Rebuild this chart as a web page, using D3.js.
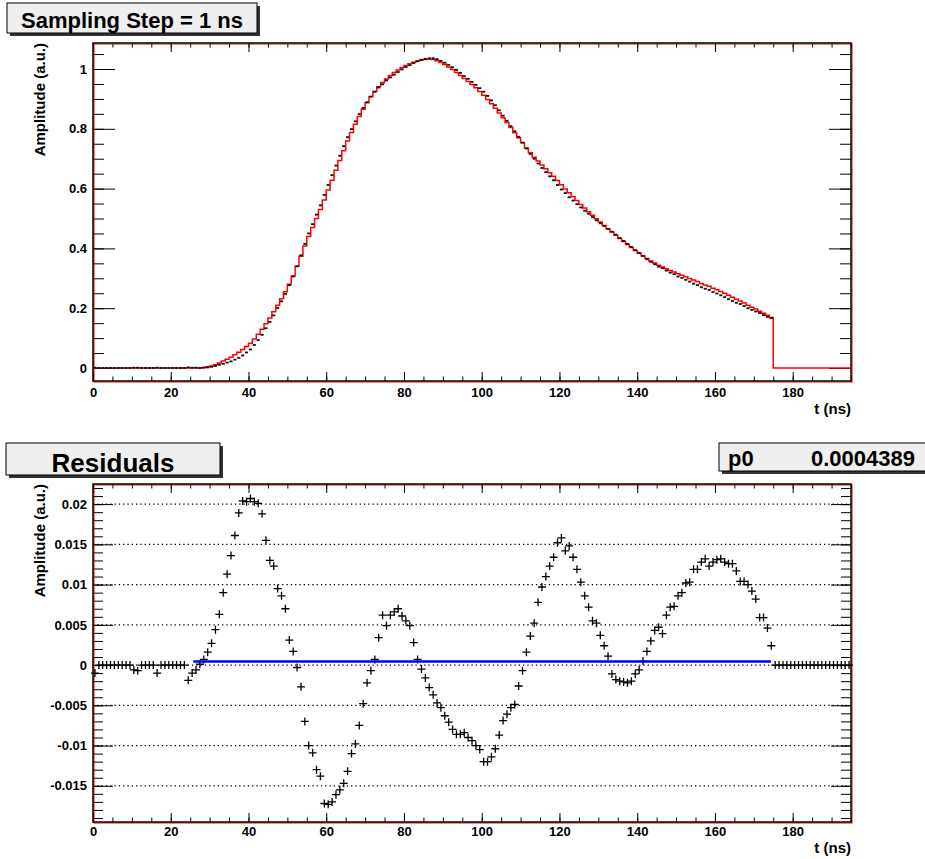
<!DOCTYPE html>
<html>
<head>
<meta charset="utf-8">
<script src="https://cdn.jsdelivr.net/npm/d3@7"></script>
<style>
  body { margin: 0; background: #fff; }
  svg { font-family: "Liberation Sans", Arial, Helvetica, sans-serif; }
</style>
</head>
<body>
<svg id="plot" width="925" height="859"></svg>
<script>
// 1 ns bins, bin n covers [n, n+1]
var binRange = [0, 195];

// red histogram (bins 0..194)
var redAmp = [
	0,0,0,0,0,0,0,0,0,0, 0,0,0,0,0,0,0,0,0,0, 0,0,0,0,0,0,0,0,
	0.002,0.004,0.007,0.011,0.017,0.023,
	0.029,0.036,0.044,0.053,0.062,0.072,0.083,0.097,0.113,0.130,
	0.148,0.167,0.188,0.210,0.232,0.255,0.280,0.308,0.340,0.374,
	0.408,0.440,0.470,0.500,0.530,0.562,0.595,0.628,0.661,0.694,
	0.727,0.759,0.788,0.815,0.841,0.865,0.887,0.907,0.925,0.941,
	0.955,0.967,0.978,0.988,0.997,1.005,1.012,1.018,1.023,1.027,
	1.030,1.032,1.033,1.032,1.028,1.022,1.015,1.007,0.998,0.988,
	0.978,0.968,0.958,0.948,0.937,0.925,0.912,0.898,0.884,0.869,
	0.853,0.837,0.821,0.804,0.787,0.770,0.753,0.736,0.720,0.705,
	0.692,0.679,0.666,0.653,0.641,0.627,0.613,0.599,0.586,0.573,
	0.560,0.547,0.535,0.523,0.511,0.499,0.488,0.477,0.466,0.455,
	0.444,0.433,0.423,0.413,0.403,0.393,0.384,0.375,0.366,0.358,
	0.351,0.344,0.338,0.332,0.326,0.321,0.315,0.310,0.305,0.299,
	0.294,0.289,0.283,0.278,0.273,0.267,0.262,0.256,0.250,0.243,
	0.237,0.230,0.224,0.217,0.210,0.203,0.197,0.190,0.183,0.176,
	0.169,
	0,0,0,0,0,0,0,0,0,0, 0,0,0,0,0,0,0,0,0,0
];

// black histogram (bins 0..174)
var blackAmp = [
	0.001,0,0,0,0,0,0,0,0,0, 0.001,0.001,0,0,0,0, 0.001,0,0,0,0,0,0,0,
	0.002,0.001,0.001,0,0.001,0.002,0.004,0.007,0.011,0.014,
	0.018,0.022,0.028,0.034,0.042,0.052,0.062,0.077,0.093,0.111,
	0.133,0.154,0.176,0.201,0.223,0.248,0.277,0.306,0.340,0.377,
	0.415,0.450,0.481,0.513,0.544,0.579,0.612,0.645,0.677,0.710,
	0.742,0.772,0.799,0.825,0.849,0.870,0.889,0.908,0.924,0.938,
	0.949,0.962,0.972,0.981,0.990,0.999,1.007,1.013,1.020,1.026,
	1.031,1.034,1.036,1.036,1.033,1.027,1.021,1.014,1.006,0.997,
	0.987,0.976,0.967,0.957,0.947,0.936,0.924,0.910,0.895,0.879,
	0.862,0.844,0.827,0.809,0.792,0.773,0.754,0.734,0.716,0.700,
	0.684,0.669,0.655,0.641,0.628,0.612,0.597,0.585,0.571,0.560,
	0.548,0.537,0.526,0.516,0.505,0.494,0.484,0.475,0.465,0.456,
	0.446,0.435,0.425,0.415,0.405,0.394,0.385,0.375,0.364,0.355,
	0.347,0.339,0.334,0.326,0.319,0.314,0.306,0.301,0.295,0.289,
	0.282,0.277,0.270,0.265,0.261,0.254,0.249,0.243,0.237,0.230,
	0.224,0.218,0.214,0.207,0.200,0.194,0.189,0.184,0.177,0.171,
	0.167
];

// residuals per bin (0..194)
var residuals = [
	-0.0010,0,0,0,0,0,0,0,0,0, -0.0006,-0.0007,0,0,0,0, -0.0010,0,0,0,0,0,0,0,
	-0.0019,-0.0010,-0.0006,0.0001,0.0007,0.0016,0.0027,0.0044,0.0063,0.0090,
	0.0113,0.0136,0.0161,0.0189,0.0204,0.0203,0.0207,0.0203,0.0201,0.0188,
	0.0155,0.0130,0.0123,0.0095,0.0086,0.0070,0.0031,0.0017,-0.0003,-0.0027,
	-0.0070,-0.0100,-0.0109,-0.0130,-0.0138,-0.0172,-0.0173,-0.0170,-0.0161,-0.0155,
	-0.0147,-0.0132,-0.0110,-0.0098,-0.0075,-0.0048,-0.0022,-0.0007,0.0007,0.0034,
	0.0062,0.0049,0.0062,0.0066,0.0070,0.0061,0.0055,0.0049,0.0028,0.0007,
	-0.0005,-0.0016,-0.0028,-0.0037,-0.0047,-0.0053,-0.0063,-0.0071,-0.0080,-0.0086,
	-0.0086,-0.0084,-0.0090,-0.0094,-0.0100,-0.0105,-0.0120,-0.0120,-0.0114,-0.0104,
	-0.0087,-0.0069,-0.0061,-0.0053,-0.0049,-0.0026,-0.0007,0.0016,0.0036,0.0052,
	0.0078,0.0097,0.0110,0.0123,0.0134,0.0152,0.0158,0.0142,0.0148,0.0134,
	0.0119,0.0103,0.0086,0.0072,0.0055,0.0052,0.0037,0.0024,0.0011,-0.0011,
	-0.0018,-0.0020,-0.0021,-0.0022,-0.0020,-0.0011,-0.0006,0.0005,0.0017,0.0030,
	0.0043,0.0047,0.0039,0.0062,0.0072,0.0073,0.0086,0.0090,0.0102,0.0103,
	0.0119,0.0119,0.0128,0.0132,0.0123,0.0128,0.0131,0.0132,0.0128,0.0126,
	0.0126,0.0117,0.0104,0.0104,0.0100,0.0092,0.0082,0.0059,0.0059,0.0046,
	0.0024,
	0,0,0,0,0,0,0,0,0,0, 0,0,0,0,0,0,0,0,0,0
];

// constant fit on the residuals
var fitP0 = 0.0004389;
var fitRange = [25.8, 174.4];

var xTicks = [0, 20, 40, 60, 80, 100, 120, 140, 160, 180];
var topYTicks = [0, 0.2, 0.4, 0.6, 0.8, 1];
var topYLabels = ["0", "0.2", "0.4", "0.6", "0.8", "1"];
var resYTicks = [-0.015, -0.01, -0.005, 0, 0.005, 0.01, 0.015, 0.02];
var resYLabels = ["-0.015", "-0.01", "-0.005", "0", "0.005", "0.01", "0.015", "0.02"];

var fontFam = "Liberation Sans, Arial, Helvetica, sans-serif";
var svg = d3.select("#plot");

var x = d3.scaleLinear().domain(binRange).range([93, 851]);
var yTop = d3.scaleLinear().domain([-0.0435, 1.087]).range([381, 43]);
var yRes = d3.scaleLinear().domain([-0.0195, 0.0225]).range([822, 484]);

// grey title/stat box with a drop shadow
function paveBox(x0, y0, w, h) {
	svg.append("rect")
		.attr("x", x0 + 3).attr("y", y0 + 3)
		.attr("width", w).attr("height", h)
		.attr("fill", "#333");
	svg.append("rect")
		.attr("x", x0).attr("y", y0)
		.attr("width", w).attr("height", h)
		.attr("fill", "#efefef")
		.attr("stroke", "#000");
}

function styleAxis(g, size) {
	g.attr("font-size", size)
		.attr("font-family", fontFam)
		.attr("font-weight", "bold");
	g.select(".domain").remove();
	g.selectAll("line").attr("stroke", "#000");
	g.selectAll("text").attr("fill", "#000");
}

// frame, ticks on all four sides, labels on left/bottom
function drawFrame(y, yMajor, yLabels, yMinorStep, yMaj, yMin, labelPad) {
	var top = y.range()[1],
		bottom = y.range()[0],
		left = x.range()[0],
		right = x.range()[1];
	var d = y.domain();
	var yMinor = d3.range(Math.ceil(d[0] / yMinorStep), Math.floor(d[1] / yMinorStep) + 1)
		.map(function(k) { return +(k * yMinorStep).toFixed(6); });
	var xMinor = d3.range(0, 196, 5);

	// left
	styleAxis(svg.append("g").attr("transform", "translate(" + left + ",0)")
		.call(d3.axisLeft(y).tickValues(yMajor)
			.tickFormat(function(v, i) { return yLabels[i]; })
			.tickSizeInner(-yMaj).tickSizeOuter(0).tickPadding(6)), 13);
	styleAxis(svg.append("g").attr("transform", "translate(" + left + ",0)")
		.call(d3.axisLeft(y).tickValues(yMinor).tickFormat("").tickSize(-yMin)), 13);
	// right
	styleAxis(svg.append("g").attr("transform", "translate(" + right + ",0)")
		.call(d3.axisRight(y).tickValues(yMajor).tickFormat("").tickSize(-yMaj)), 13);
	styleAxis(svg.append("g").attr("transform", "translate(" + right + ",0)")
		.call(d3.axisRight(y).tickValues(yMinor).tickFormat("").tickSize(-yMin)), 13);
	// bottom
	styleAxis(svg.append("g").attr("transform", "translate(0," + bottom + ")")
		.call(d3.axisBottom(x).tickValues(xTicks).tickFormat(d3.format("d"))
			.tickSizeInner(-9).tickSizeOuter(0).tickPadding(labelPad)), 13);
	styleAxis(svg.append("g").attr("transform", "translate(0," + bottom + ")")
		.call(d3.axisBottom(x).tickValues(xMinor).tickFormat("").tickSize(-4.5)), 13);
	// top
	styleAxis(svg.append("g").attr("transform", "translate(0," + top + ")")
		.call(d3.axisTop(x).tickValues(xTicks).tickFormat("").tickSize(-9)), 13);
	styleAxis(svg.append("g").attr("transform", "translate(0," + top + ")")
		.call(d3.axisTop(x).tickValues(xMinor).tickFormat("").tickSize(-4.5)), 13);

	// frame lines: black axis box plus the red pad frame 1px off
	svg.append("rect")
		.attr("x", left + 1).attr("y", top + 1)
		.attr("width", right - left).attr("height", bottom - top)
		.attr("fill", "none").attr("stroke", "#f00").attr("stroke-width", 1);
	svg.append("rect")
		.attr("x", left).attr("y", top)
		.attr("width", right - left).attr("height", bottom - top)
		.attr("fill", "none").attr("stroke", "#000").attr("stroke-width", 1.5);

	// axis titles
	svg.append("text")
		.attr("transform", "translate(45," + top + ") rotate(-90)")
		.attr("text-anchor", "end")
		.attr("font-family", fontFam).attr("font-weight", "bold").attr("font-size", 15)
		.text("Amplitude (a.u.)");
	svg.append("text")
		.attr("x", right).attr("y", bottom + 31 + (labelPad - 5))
		.attr("text-anchor", "end")
		.attr("font-family", fontFam).attr("font-weight", "bold").attr("font-size", 15)
		.text("t (ns)");
}

// ---------- top panel ----------
paveBox(7, 3, 250, 30);
svg.append("text")
	.attr("x", 132).attr("y", 28)
	.attr("text-anchor", "middle")
	.attr("font-family", fontFam).attr("font-weight", "bold").attr("font-size", 22)
	.text("Sampling Step = 1 ns");

drawFrame(yTop, topYTicks, topYLabels, 0.05, 22, 11, 7);

// red step histogram
var redPts = redAmp.map(function(v, i) { return [i, v]; });
redPts.push([binRange[1], redAmp[redAmp.length - 1]]);
svg.append("path")
	.datum(redPts)
	.attr("fill", "none")
	.attr("stroke", "#f00")
	.attr("stroke-width", 1.5)
	.attr("d", d3.line()
		.x(function(d) { return x(d[0]); })
		.y(function(d) { return yTop(d[1]); })
		.curve(d3.curveStepAfter));

// black histogram: one short horizontal dash per bin
svg.append("g")
	.selectAll("line")
	.data(blackAmp)
	.enter()
	.append("line")
	.attr("x1", function(d, i) { return x(i) + 0.4; })
	.attr("x2", function(d, i) { return x(i + 1) - 0.4; })
	.attr("y1", function(d) { return yTop(d); })
	.attr("y2", function(d) { return yTop(d); })
	.attr("stroke", "#111")
	.attr("stroke-width", 1.8);

// ---------- residual panel ----------
paveBox(6, 443, 214, 32);
svg.append("text")
	.attr("x", 113).attr("y", 472)
	.attr("text-anchor", "middle")
	.attr("font-family", fontFam).attr("font-weight", "bold").attr("font-size", 26)
	.text("Residuals");

paveBox(719, 443, 215, 28);
svg.append("text")
	.attr("x", 728).attr("y", 466)
	.attr("font-family", fontFam).attr("font-weight", "bold").attr("font-size", 22)
	.text("p0");
svg.append("text")
	.attr("x", 915).attr("y", 466)
	.attr("text-anchor", "end")
	.attr("font-family", fontFam).attr("font-weight", "bold").attr("font-size", 22)
	.text(String(fitP0));

// dotted grid on the major y ticks
svg.append("g")
	.selectAll("line")
	.data(resYTicks)
	.enter()
	.append("line")
	.attr("x1", x.range()[0]).attr("x2", x.range()[1])
	.attr("y1", function(d) { return yRes(d); })
	.attr("y2", function(d) { return yRes(d); })
	.attr("stroke", "#000")
	.attr("stroke-width", 1.2)
	.attr("stroke-dasharray", "1.3,3");

drawFrame(yRes, resYTicks, resYLabels, 0.001, 20, 10, 5);

// residual markers (+)
svg.append("g")
	.selectAll("path")
	.data(residuals)
	.enter()
	.append("path")
	.attr("transform", function(d, i) {
		return "translate(" + x(i + 0.5) + "," + yRes(d) + ")";
	})
	.attr("d", "M-4,0H4M0,-4V4")
	.attr("fill", "none")
	.attr("stroke", "#000")
	.attr("stroke-width", 1.3);

// fitted constant
svg.append("line")
	.attr("x1", x(fitRange[0])).attr("x2", x(fitRange[1]))
	.attr("y1", yRes(fitP0)).attr("y2", yRes(fitP0))
	.attr("stroke", "#0000ff")
	.attr("stroke-width", 2.5);
</script>
</body>
</html>
